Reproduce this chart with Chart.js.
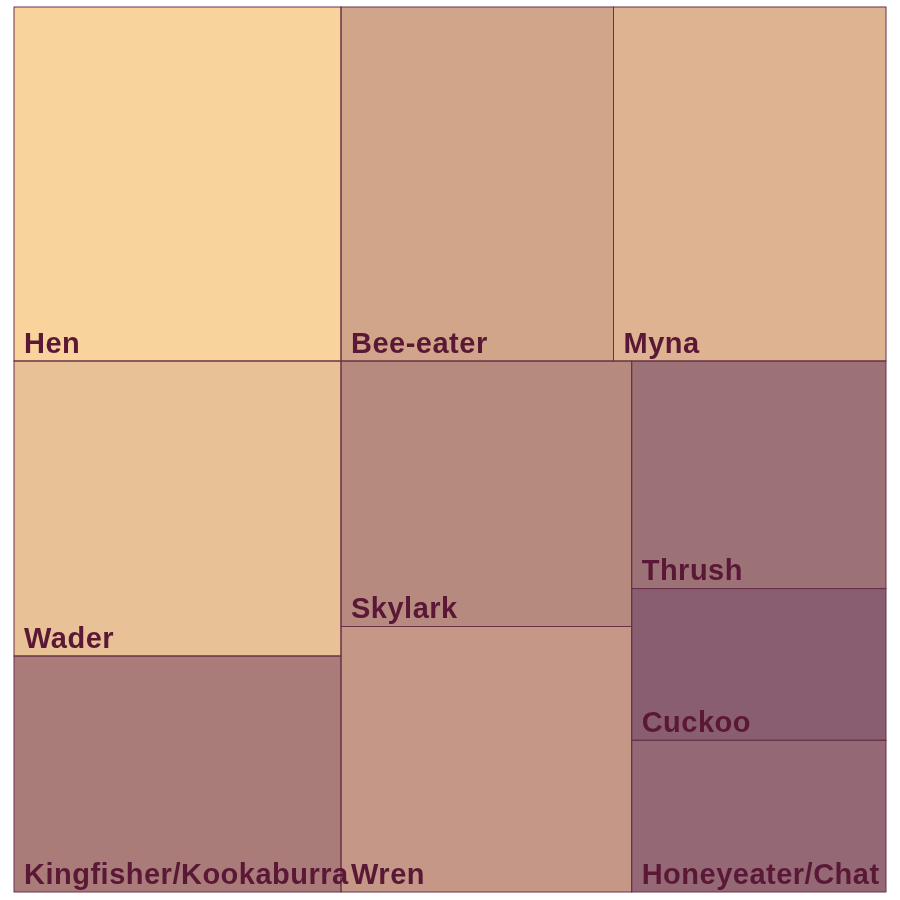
<!DOCTYPE html>
<html>
<head>
<meta charset="utf-8">
<script src="https://cdn.jsdelivr.net/npm/chart.js@4/dist/chart.umd.min.js"></script>
<style>
  html, body { margin: 0; padding: 0; background: #ffffff; }
  #wrap { width: 900px; height: 900px; }
</style>
</head>
<body>
<div id="wrap"><canvas id="c" width="900" height="900"></canvas></div>
<script>
// ---- data ----
const categories = ["Hen", "Bee-eater", "Myna", "Wader", "Kingfisher/Kookaburra", "Skylark", "Wren", "Thrush", "Cuckoo", "Honeyeater/Chat"];
const values = [6, 5, 5, 5, 4, 4, 4, 3, 2, 2];
const fillColors = ["#F8D39B", "#D1A58A", "#DEB391", "#E9C196", "#A97C7A", "#B68A7F", "#C49786", "#9D7277", "#895E70", "#946875"];

// ---- squarified layout in plot units (width W, height H) ----
function worst(row, side) {
  const s = row.reduce((a, r) => a + r.area, 0);
  let m = 0;
  for (const r of row) {
    const a = (side * side * r.area) / (s * s);
    const b = (s * s) / (side * side * r.area);
    m = Math.max(m, a, b);
  }
  return m;
}
function squarify(vals, W, H) {
  const total = vals.reduce((a, b) => a + b, 0);
  const items = vals.map((v, i) => ({ i, area: v / total * W * H }));
  const out = [];
  let x = 0, y = 0, w = W, h = H;
  let k = 0;
  while (k < items.length) {
    const side = Math.min(w, h);
    let row = [items[k]];
    k++;
    while (k < items.length) {
      const cand = row.concat([items[k]]);
      if (worst(cand, side) <= worst(row, side)) { row = cand; k++; } else break;
    }
    const s = row.reduce((a, r) => a + r.area, 0);
    if (w < h) {
      const th = s / w;
      let cx = x;
      for (const r of row) {
        const rw = r.area / th;
        out[r.i] = { x0: cx, y0: y, x1: cx + rw, y1: y + th };
        cx += rw;
      }
      y += th; h -= th;
    } else {
      const tw = s / h;
      let cy = y;
      for (const r of row) {
        const rh = r.area / tw;
        out[r.i] = { x0: x, y0: cy, x1: x + tw, y1: cy + rh };
        cy += rh;
      }
      x += tw; w -= tw;
    }
  }
  return out;
}

const treemapPlugin = {
  id: 'treemapCells',
  afterDatasetsDraw(chart) {
    const ca = chart.chartArea;
    const W = ca.right - ca.left, H = ca.bottom - ca.top;
    const sx = chart.scales.x, sy = chart.scales.y;
    const rects = squarify(values, W, H);
    const ctx = chart.ctx;
    const px = rects.map(r => ({
      l: sx.getPixelForValue(r.x0 / W),
      r: sx.getPixelForValue(r.x1 / W),
      t: sy.getPixelForValue(r.y0 / H),
      b: sy.getPixelForValue(r.y1 / H)
    }));
    ctx.save();
    px.forEach((p, i) => {
      ctx.fillStyle = fillColors[i];
      ctx.fillRect(p.l, p.t, p.r - p.l, p.b - p.t);
    });
    ctx.strokeStyle = '#6B3048';
    ctx.lineWidth = 1;
    px.forEach((p) => {
      ctx.strokeRect(p.l, p.t, p.r - p.l, p.b - p.t);
    });
    ctx.fillStyle = '#5A1736';
    ctx.font = 'bold 29px "Liberation Sans", Arial, sans-serif';
    if ('letterSpacing' in ctx) ctx.letterSpacing = '0.5px';
    ctx.textAlign = 'left';
    ctx.textBaseline = 'alphabetic';
    px.forEach((p, i) => {
      ctx.fillText(categories[i], p.l + 10, p.b - 8.5);
    });
    ctx.restore();
  }
};

new Chart(document.getElementById('c'), {
  type: 'scatter',
  data: { datasets: [{ label: 'cells', data: [], pointRadius: 0 }] },
  options: {
    responsive: false,
    animation: false,
    events: [],
    layout: { padding: { left: 14, right: 14, top: 7, bottom: 8 } },
    scales: {
      x: { type: 'linear', min: 0, max: 1, display: false },
      y: { type: 'linear', min: 0, max: 1, reverse: true, display: false }
    },
    plugins: { legend: { display: false }, tooltip: { enabled: false } }
  },
  plugins: [treemapPlugin]
});
</script>
</body>
</html>
